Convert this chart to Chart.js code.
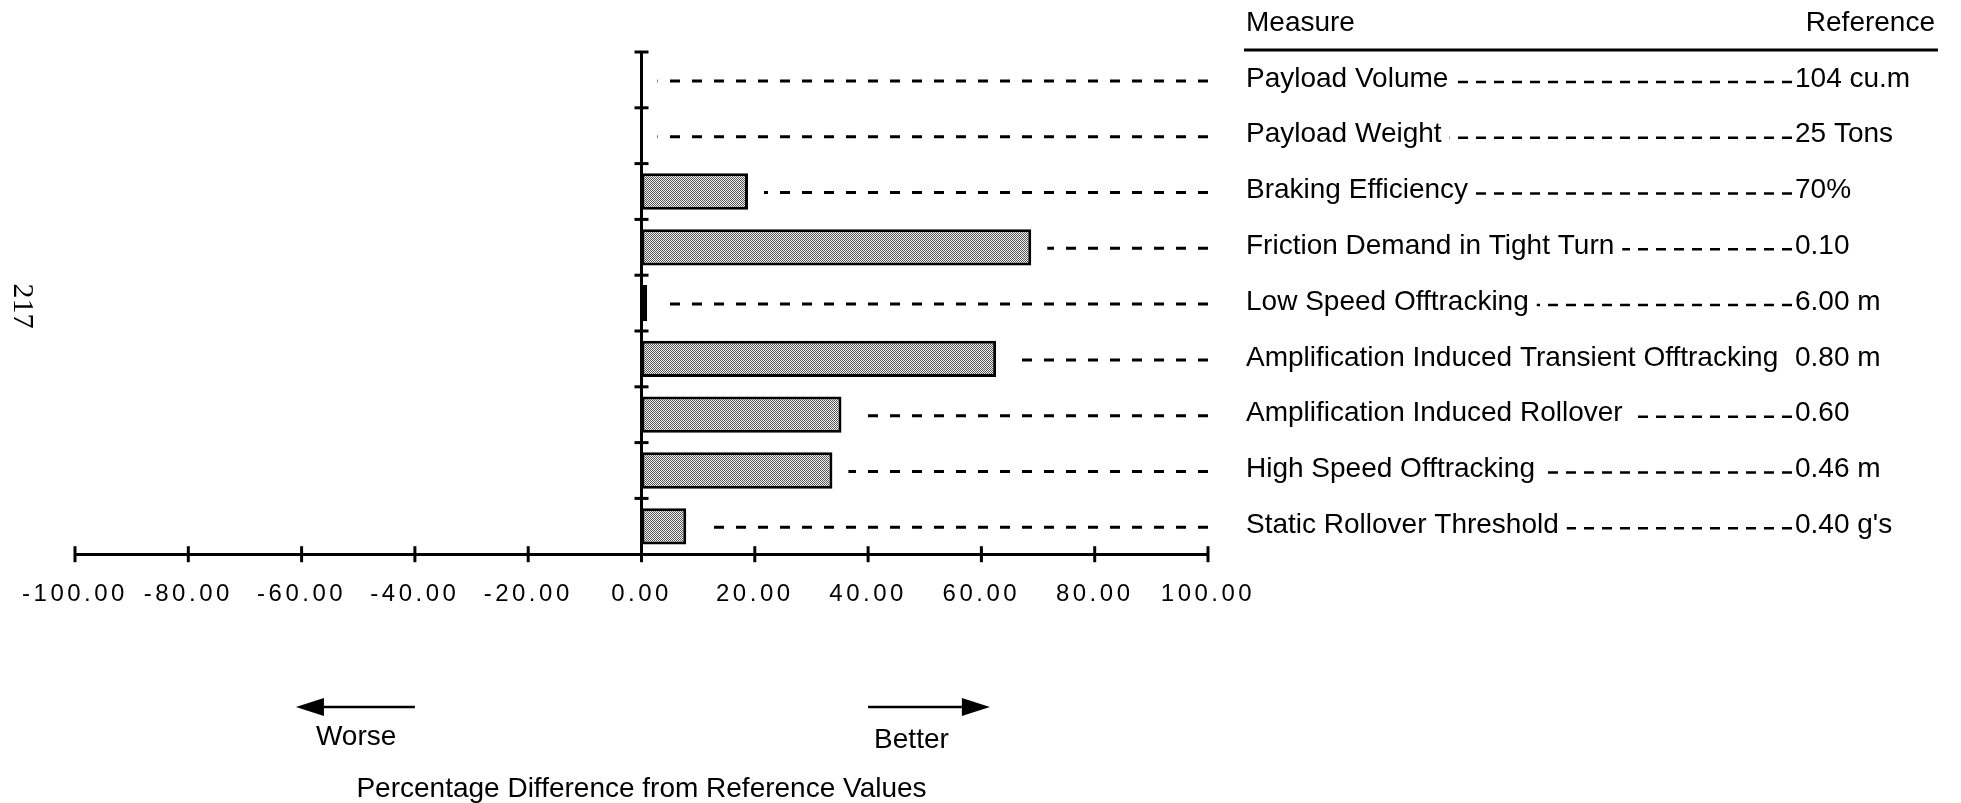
<!DOCTYPE html>
<html>
<head>
<meta charset="utf-8">
<script src="https://cdn.jsdelivr.net/npm/chart.js@4/dist/chart.umd.min.js"></script>
<style>
  html, body { margin: 0; padding: 0; background: #fff; }
</style>
</head>
<body>
<canvas id="chart" width="1961" height="803"></canvas>
<script>
// rows, top to bottom
const measures = [
    'Payload Volume',
    'Payload Weight',
    'Braking Efficiency',
    'Friction Demand in Tight Turn',
    'Low Speed Offtracking',
    'Amplification Induced Transient Offtracking',
    'Amplification Induced Rollover',
    'High Speed Offtracking',
    'Static Rollover Threshold'
];
const referenceValues = ['104 cu.m', '25 Tons', '70%', '0.10', '6.00 m', '0.80 m', '0.60', '0.46 m', "0.40 g's"];
// % difference from reference (positive = better)
const pctDifference = [0, 0, 18.8, 68.8, 1.0, 62.6, 35.3, 33.7, 7.9];
const xTicks = [-100, -80, -60, -40, -20, 0, 20, 40, 60, 80, 100];

const FONT = '"Liberation Sans", Arial, Helvetica, sans-serif';
const canvas = document.getElementById('chart');
const ctx = canvas.getContext('2d');

// stippled grey fill like the scanned bars
function stipple() {
    const c = document.createElement('canvas');
    c.width = 2; c.height = 2;
    const g = c.getContext('2d');
    g.fillStyle = '#f2f2f2';
    g.fillRect(0, 0, 2, 2);
    g.fillStyle = '#555';
    g.fillRect(0, 0, 1, 1);
    g.fillRect(1, 1, 1, 1);
    return ctx.createPattern(c, 'repeat');
}

function dashedLeft(c, fromX, toX, y) {
    // pattern anchored at the right end
    c.beginPath();
    c.moveTo(fromX, y);
    c.lineTo(toX, y);
    c.stroke();
}

function arrow(c, tail, tip, y) {
    const dir = tip < tail ? -1 : 1;
    const head = 28;
    c.lineWidth = 2.5;
    c.beginPath();
    c.moveTo(tail, y);
    c.lineTo(tip - dir * head, y);
    c.stroke();
    c.beginPath();
    c.moveTo(tip, y);
    c.lineTo(tip - dir * head, y - 9);
    c.lineTo(tip - dir * head, y + 9);
    c.closePath();
    c.fill();
}

const decor = {
    id: 'decor',
    // wide-set axis numbers like the original
    beforeDraw(chart) {
        chart.ctx.letterSpacing = '3.5px';
    },
    beforeDatasetsDraw(chart) {
        chart.ctx.letterSpacing = '0px';
    },
    afterDatasetsDraw(chart) {
        const { ctx, chartArea, scales: { x, y } } = chart;
        const x0 = x.getPixelForValue(0);
        const x100 = x.getPixelForValue(100);
        ctx.save();
        ctx.letterSpacing = '0px';
        ctx.strokeStyle = '#000';
        ctx.fillStyle = '#000';

        // zero axis with row ticks
        ctx.lineWidth = 3;
        ctx.beginPath();
        ctx.moveTo(x0, chartArea.top);
        ctx.lineTo(x0, chartArea.bottom);
        ctx.stroke();
        const bounds = [chartArea.top];
        for (let i = 1; i < measures.length; i++) {
            bounds.push((y.getPixelForValue(i - 1) + y.getPixelForValue(i)) / 2);
        }
        bounds.forEach(b => {
            ctx.beginPath();
            ctx.moveTo(x0 - 7, b);
            ctx.lineTo(x0 + 7, b);
            ctx.stroke();
        });

        // x ticks crossing the axis
        x.ticks.forEach(t => {
            const px = x.getPixelForValue(t.value);
            ctx.beginPath();
            ctx.moveTo(px, chartArea.bottom - 8);
            ctx.lineTo(px, chartArea.bottom + 8);
            ctx.stroke();
        });

        // leaders from bar ends to the table
        const meta = chart.getDatasetMeta(0);
        ctx.lineWidth = 3;
        ctx.setLineDash([10, 12]);
        pctDifference.forEach((v, i) => {
            const yy = y.getPixelForValue(i) + 1;
            const start = Math.max(meta.data[i].x, x0) + 16;
            dashedLeft(ctx, x100, start, yy);
        });
        ctx.setLineDash([]);

        // table on the right
        const tx = 1246, valX = 1795, dashEnd = 1792;
        ctx.font = '28px ' + FONT;
        ctx.textBaseline = 'middle';
        ctx.textAlign = 'left';
        ctx.fillText('Measure', tx, 23);
        ctx.textAlign = 'right';
        ctx.fillText('Reference', 1935, 23);
        ctx.lineWidth = 3;
        ctx.beginPath();
        ctx.moveTo(1244, 50);
        ctx.lineTo(1938, 50);
        ctx.stroke();

        ctx.textAlign = 'left';
        ctx.lineWidth = 2.5;
        ctx.setLineDash([10, 8]);
        measures.forEach((m, i) => {
            const yy = y.getPixelForValue(i);
            ctx.fillText(m, tx, yy - 1);
            ctx.fillText(referenceValues[i], valX, yy - 1);
            const end = tx + ctx.measureText(m).width + 8;
            if (dashEnd - end > 60) dashedLeft(ctx, dashEnd, end, yy + 2);
        });
        ctx.setLineDash([]);
        ctx.restore();
    },
    afterDraw(chart) {
        const { ctx, scales: { x } } = chart;
        ctx.save();
        ctx.letterSpacing = '0px';
        ctx.strokeStyle = '#000';
        ctx.fillStyle = '#000';

        const ay = 707;
        const wTip = x.getPixelForValue(-61), wTail = x.getPixelForValue(-40);
        const bTail = x.getPixelForValue(40), bTip = x.getPixelForValue(61.5);
        arrow(ctx, wTail, wTip, ay);
        arrow(ctx, bTail, bTip, ay);

        ctx.font = '28px ' + FONT;
        ctx.textBaseline = 'middle';
        ctx.textAlign = 'left';
        ctx.fillText('Worse', wTip + 20, 737);
        ctx.fillText('Better', bTail + 6, 740);
        ctx.textAlign = 'center';
        ctx.fillText('Percentage Difference from Reference Values', x.getPixelForValue(0), 789);

        // page number
        ctx.translate(22, 306);
        ctx.rotate(Math.PI / 2);
        ctx.font = '30px "Liberation Serif", "Times New Roman", serif';
        ctx.fillText('217', 0, 0);
        ctx.restore();
    }
};

new Chart(ctx, {
    type: 'bar',
    data: {
        labels: measures,
        datasets: [{
            data: pctDifference,
            backgroundColor: stipple(),
            borderColor: '#000',
            borderWidth: 3,
            borderSkipped: false,
            categoryPercentage: 1,
            barPercentage: 0.65
        }]
    },
    options: {
        indexAxis: 'y',
        responsive: false,
        animation: false,
        events: [],
        layout: { padding: { left: 75, right: 753, top: 52, bottom: 168 } },
        plugins: { legend: { display: false }, tooltip: { enabled: false } },
        scales: {
            x: {
                type: 'linear',
                min: -100,
                max: 100,
                afterBuildTicks: s => { s.ticks = xTicks.map(v => ({ value: v })); },
                grid: { display: false, drawTicks: false },
                border: { display: true, color: '#000', width: 3 },
                ticks: {
                    autoSkip: false,
                    maxRotation: 0,
                    padding: 26,
                    color: '#000',
                    font: { family: FONT, size: 24 },
                    callback: v => Number(v).toFixed(2)
                }
            },
            y: {
                type: 'category',
                display: false,
                offset: true
            }
        }
    },
    plugins: [decor]
});
</script>
</body>
</html>
